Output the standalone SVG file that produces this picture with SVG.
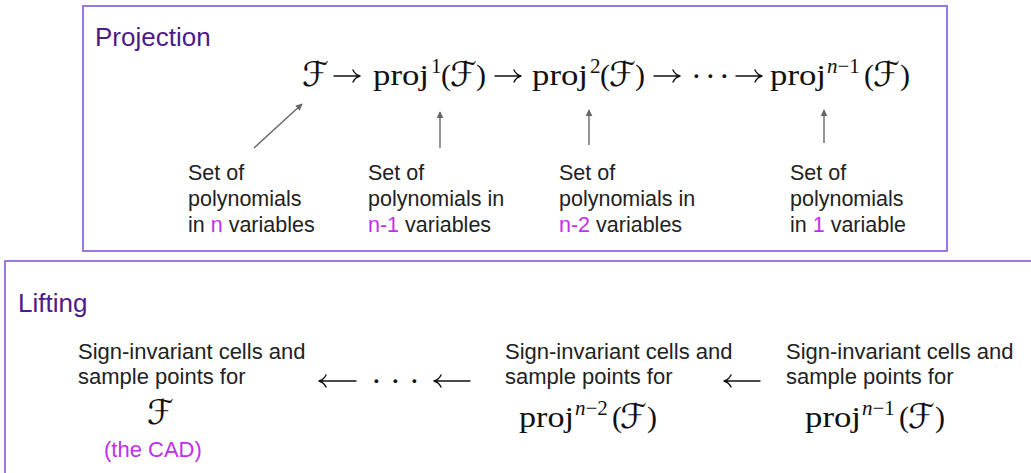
<svg xmlns="http://www.w3.org/2000/svg" width="1031" height="473" viewBox="0 0 1031 473">
<style>
.box{fill:none;stroke:#9b78dc;stroke-width:2}
.title{font-family:"Liberation Sans",Arial,sans-serif;font-size:26px;fill:#4f1a8a}
.lbl{font-family:"Liberation Sans",Arial,sans-serif;font-size:21.5px;fill:#222}
.lbl2{font-family:"Liberation Sans",Arial,sans-serif;font-size:22px;fill:#222}
.mag{fill:#c02ef0}
.m{font-family:"Liberation Serif","Times New Roman",serif;font-size:30px;fill:#111}
.sup{font-family:"Liberation Serif","Times New Roman",serif;font-size:21px;fill:#111}
.it{font-style:italic}
.cal{font-family:"DejaVu Serif","DejaVu Sans",serif;font-size:34px;fill:#111}
.dots{font-family:"Liberation Serif","Times New Roman",serif;font-size:32px;fill:#111}
.marr{fill:none;stroke:#111;stroke-width:1.4;stroke-linecap:round;stroke-linejoin:round}
.conn line{stroke:#666;stroke-width:1.4;marker-end:url(#ah)}
</style>
<defs>
<marker id="ah" viewBox="0 0 10 10" refX="9" refY="5" markerWidth="7" markerHeight="7" markerUnits="userSpaceOnUse" orient="auto">
<path d="M0,0 L10,5 L0,10 z" fill="#666"/>
</marker>
</defs>
<rect width="1031" height="473" fill="#fff"/>

<g id="projection-box">
<rect class="box" x="83" y="6" width="864" height="245"/>
<text class="title" x="95" y="46">Projection</text>
</g>

<g id="formula-top">
<text class="cal" x="302" y="86">ℱ</text>
<path class="marr" d="M334,76 H360 M353,70 Q355,74.5 360,76 Q355,77.5 353,82"/>
<text class="m" x="373" y="85" textLength="56" lengthAdjust="spacingAndGlyphs">proj</text>
<text class="sup" x="431" y="73">1</text>
<text class="m" x="441" y="85">(</text><text class="cal" x="450" y="86">ℱ</text><text class="m" x="476" y="85">)</text>
<path class="marr" d="M495,76 H521 M514,70 Q516,74.5 521,76 Q516,77.5 514,82"/>
<text class="m" x="532" y="85" textLength="56" lengthAdjust="spacingAndGlyphs">proj</text>
<text class="sup" x="590" y="73">2</text>
<text class="m" x="600" y="85">(</text><text class="cal" x="609" y="86">ℱ</text><text class="m" x="635" y="85">)</text>
<path class="marr" d="M654,76 H680 M673,70 Q675,74.5 680,76 Q675,77.5 673,82"/>
<text class="dots" x="691 705 719" y="87">···</text>
<path class="marr" d="M736,76 H762 M755,70 Q757,74.5 762,76 Q757,77.5 755,82"/>
<text class="m" x="770" y="85" textLength="56" lengthAdjust="spacingAndGlyphs">proj</text>
<text class="sup" x="827" y="73"><tspan class="it">n</tspan>−1</text>
<text class="m" x="864" y="85">(</text><text class="cal" x="873" y="86">ℱ</text><text class="m" x="900" y="85">)</text>
</g>

<g id="label-n">
<text class="lbl" x="188" y="180">Set of</text>
<text class="lbl" x="188" y="206">polynomials</text>
<text class="lbl" x="188" y="232">in <tspan class="mag">n</tspan> variables</text>
</g>
<g id="label-n1">
<text class="lbl" x="368" y="180">Set of</text>
<text class="lbl" x="368" y="206">polynomials in</text>
<text class="lbl" x="368" y="232"><tspan class="mag">n-1</tspan> variables</text>
</g>
<g id="label-n2">
<text class="lbl" x="559" y="180">Set of</text>
<text class="lbl" x="559" y="206">polynomials in</text>
<text class="lbl" x="559" y="232"><tspan class="mag">n-2</tspan> variables</text>
</g>
<g id="label-1">
<text class="lbl" x="790" y="180">Set of</text>
<text class="lbl" x="790" y="206">polynomials</text>
<text class="lbl" x="790" y="232">in <tspan class="mag">1</tspan> variable</text>
</g>

<g id="connectors" class="conn">
<line x1="254" y1="148" x2="302" y2="104"/>
<line x1="440" y1="148" x2="440" y2="112"/>
<line x1="589" y1="145" x2="589" y2="110"/>
<line x1="824" y1="143" x2="824" y2="110"/>
</g>

<g id="lifting-box">
<rect class="box" x="5" y="261" width="1040" height="230"/>
<text class="title" x="18" y="312">Lifting</text>
</g>

<g id="lift-F">
<text class="lbl2" x="78" y="359">Sign-invariant cells and</text>
<text class="lbl2" x="78" y="384">sample points for</text>
<text class="cal" x="147" y="424">ℱ</text>
<text class="lbl2 mag" x="104" y="457">(the CAD)</text>
</g>

<g id="lift-n2">
<text class="lbl2" x="505" y="359">Sign-invariant cells and</text>
<text class="lbl2" x="505" y="384">sample points for</text>
<text class="m" x="519" y="427" textLength="55" lengthAdjust="spacingAndGlyphs">proj</text>
<text class="sup" x="575" y="415"><tspan class="it">n</tspan>−2</text>
<text class="m" x="612" y="427">(</text><text class="cal" x="620" y="428">ℱ</text><text class="m" x="647" y="427">)</text>
</g>

<g id="lift-n1">
<text class="lbl2" x="786" y="359">Sign-invariant cells and</text>
<text class="lbl2" x="786" y="384">sample points for</text>
<text class="m" x="805" y="427" textLength="56" lengthAdjust="spacingAndGlyphs">proj</text>
<text class="sup" x="862" y="415"><tspan class="it">n</tspan>−1</text>
<text class="m" x="899" y="427">(</text><text class="cal" x="908" y="428">ℱ</text><text class="m" x="935" y="427">)</text>
</g>

<g id="lift-arrows">
<path class="marr" d="M356,381 H319 M326,375 Q324,379.5 319,381 Q324,382.5 326,387"/>
<text class="dots" x="371 390 409" y="392">···</text>
<path class="marr" d="M470,381 H434 M441,375 Q439,379.5 434,381 Q439,382.5 441,387"/>
<path class="marr" d="M760,381 H724 M731,375 Q729,379.5 724,381 Q729,382.5 731,387"/>
</g>
</svg>
